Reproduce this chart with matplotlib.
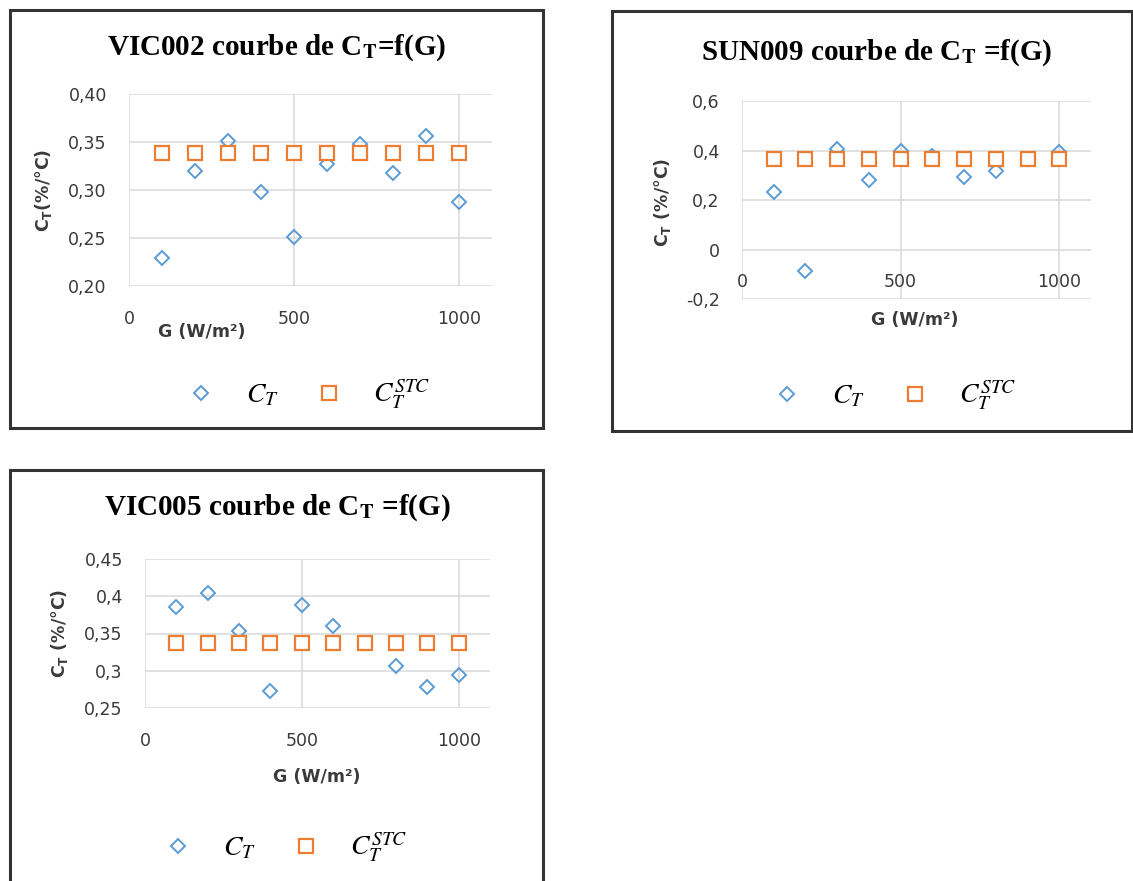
import matplotlib
matplotlib.use("Agg")
import matplotlib.pyplot as plt
from matplotlib.patches import Rectangle
from matplotlib.lines import Line2D
from matplotlib.font_manager import FontProperties

W, H = 1133, 881

# data
G = [100, 200, 300, 400, 500, 600, 700, 800, 900, 1000]

ct_vic002 = [0.229, 0.320, 0.351, 0.298, 0.251, 0.327, 0.348, 0.318, 0.356, 0.288]
stc_vic002 = [0.339, 0.339, 0.339, 0.339, 0.339, 0.339, 0.339, 0.339, 0.339, 0.339]

ct_sun009 = [0.233, -0.088, 0.408, 0.280, 0.397, 0.378, 0.292, 0.318, 0.365, 0.393]
stc_sun009 = [0.365, 0.365, 0.365, 0.365, 0.365, 0.365, 0.365, 0.365, 0.365, 0.365]

ct_vic005 = [0.385, 0.404, 0.353, 0.273, 0.388, 0.360, 0.337, 0.306, 0.278, 0.294]
stc_vic005 = [0.337, 0.337, 0.337, 0.337, 0.337, 0.337, 0.337, 0.337, 0.337, 0.337]

xticks = [0, 500, 1000]
xlabels = ["0", "500", "1000"]

yticks_vic002 = [0.20, 0.25, 0.30, 0.35, 0.40]
ylabels_vic002 = ["0,20", "0,25", "0,30", "0,35", "0,40"]
yticks_sun009 = [-0.2, 0, 0.2, 0.4, 0.6]
ylabels_sun009 = ["-0,2", "0", "0,2", "0,4", "0,6"]
yticks_vic005 = [0.25, 0.30, 0.35, 0.40, 0.45]
ylabels_vic005 = ["0,25", "0,3", "0,35", "0,4", "0,45"]

BLUE = "#5B9BD5"
ORANGE = "#ED7D31"
GRID = "#D9D9D9"
TXT = "#3A3A3A"


def px(x, y):
    return x / W, 1 - y / H


fig = plt.figure(figsize=(W / 100, H / 100), dpi=100)

# chart frames (left, top, right, bottom) in pixels
for l, t, r, b in [(10, 10, 543, 428), (612, 11, 1132, 431), (10, 470, 543, 890)]:
    fig.add_artist(Rectangle(px(l, b), (r - l) / W, (b - t) / H, transform=fig.transFigure,
                             fill=False, ec="#333333", lw=2.2, clip_on=False))

charts = [
    dict(name="VIC002 courbe de C$_\\mathbf{T}$=f(G)", ct=ct_vic002, stc=stc_vic002,
         yt=yticks_vic002, yl=ylabels_vic002, ylim=(0.20, 0.40), cross=None,
         box=(129, 94, 492, 286), title=(277, 48), xlab=(202, 332),
         ylab=(43, 190), ytxt="C$_\\mathbf{T}$(%/°C)", leg=(309, 395)),
    dict(name="SUN009 courbe de C$_\\mathbf{T}$ =f(G)", ct=ct_sun009, stc=stc_sun009,
         yt=yticks_sun009, yl=ylabels_sun009, ylim=(-0.2, 0.6), cross=0,
         box=(742, 101, 1091, 299), title=(877, 53), xlab=(915, 320),
         ylab=(662, 202), ytxt="C$_\\mathbf{T}$ (%/°C)", leg=(895, 396)),
    dict(name="VIC005 courbe de C$_\\mathbf{T}$ =f(G)", ct=ct_vic005, stc=stc_vic005,
         yt=yticks_vic005, yl=ylabels_vic005, ylim=(0.25, 0.45), cross=None,
         box=(145, 559, 490, 708), title=(277, 508), xlab=(317, 777),
         ylab=(59, 633), ytxt="C$_\\mathbf{T}$ (%/°C)", leg=(286, 848)),
]

D_MS, S_MS = 7.0, 9.5

for c in charts:
    x0, y0, x1, y1 = c["box"]
    ax = fig.add_axes([x0 / W, 1 - y1 / H, (x1 - x0) / W, (y1 - y0) / H])
    ax.plot(G, c["ct"], ls="none", marker="D", ms=D_MS, mfc="none", mec=BLUE, mew=1.4, zorder=3)
    ax.plot(G, c["stc"], ls="none", marker="s", ms=S_MS, mfc="white", mec=ORANGE, mew=1.6, zorder=4)
    ax.set_xlim(0, 1100)
    ax.set_ylim(*c["ylim"])
    ax.set_xticks(xticks, xlabels)
    ax.set_yticks(c["yt"], c["yl"])
    for s in ax.spines.values():
        s.set_visible(False)
    if c["cross"] is not None:
        ax.spines["bottom"].set_position(("data", c["cross"]))
    ax.grid(True, color=GRID, lw=1.1)
    ax.set_axisbelow(True)
    ax.tick_params(length=0, labelsize=12.5, labelcolor=TXT)
    ax.tick_params(axis="x", pad=17)
    ax.tick_params(axis="y", pad=16)

    tx, ty = px(*c["title"])
    fig.text(tx, ty, c["name"], ha="center", va="center", fontsize=21, fontweight="bold",
             family="Liberation Serif", math_fontfamily="stix", color="black")
    lx, ly = px(*c["xlab"])
    fig.text(lx, ly, "G (W/m²)", ha="center", va="center", fontsize=12.5, fontweight="bold",
             color=TXT)
    yx, yy = px(*c["ylab"])
    fig.text(yx, yy, c["ytxt"], ha="center", va="center", rotation=90, fontsize=12.5,
             fontweight="bold", color=TXT, math_fontfamily="dejavusans")

    handles = [Line2D([], [], ls="none", marker="D", ms=D_MS, mfc="none", mec=BLUE, mew=1.4),
               Line2D([], [], ls="none", marker="s", ms=S_MS, mfc="none", mec=ORANGE, mew=1.6)]
    gx, gy = px(*c["leg"])
    ax.legend(handles, ["$C_T$", "$C_T^{STC}$"], loc="center", bbox_to_anchor=(gx, gy),
              bbox_transform=fig.transFigure, ncol=2, frameon=False,
              prop=FontProperties(size=20, math_fontfamily="stix"),
              handlelength=1.0, handletextpad=1.1, columnspacing=1.3, borderpad=0)

fig.savefig("out.png", dpi=100)
